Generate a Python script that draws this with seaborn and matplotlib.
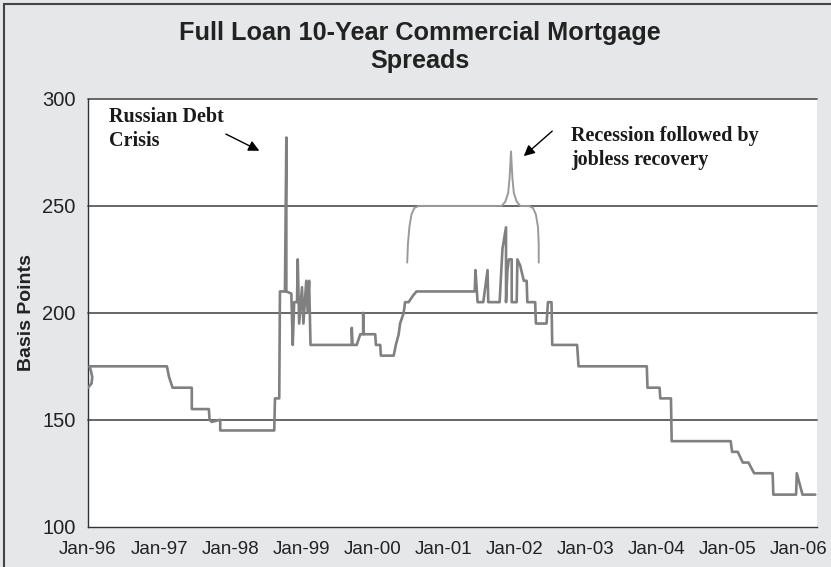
import matplotlib
matplotlib.use("Agg")
import matplotlib.pyplot as plt
import seaborn as sns
import pandas as pd
from matplotlib.patches import Rectangle

# spread series (decimal year, basis points)
years = [1996.00, 1996.05, 1996.06, 1996.04, 1996.02, 1997.11, 1997.14, 1997.19,
         1997.46, 1997.46, 1997.70, 1997.71, 1997.74, 1997.86, 1997.86, 1998.62,
         1998.63, 1998.69, 1998.70, 1998.77, 1998.79, 1998.79, 1998.86, 1998.88,
         1998.90, 1998.94, 1998.95, 1998.97, 1999.01, 1999.03, 1999.07, 1999.09,
         1999.11, 1999.13, 1999.66, 1999.71, 1999.71, 1999.72, 1999.78, 1999.83,
         1999.87, 1999.87, 1999.88, 2000.04, 2000.05, 2000.11, 2000.12, 2000.30,
         2000.33, 2000.37, 2000.39, 2000.44, 2000.46, 2000.51, 2000.57, 2000.62,
         2001.44, 2001.45, 2001.48, 2001.56, 2001.62, 2001.63, 2001.79, 2001.83,
         2001.88, 2001.88, 2001.90, 2001.92, 2001.96, 2001.96, 2002.03, 2002.04,
         2002.08, 2002.13, 2002.17, 2002.18, 2002.29, 2002.30, 2002.45, 2002.47,
         2002.52, 2002.53, 2002.88, 2002.90, 2003.86, 2003.87, 2004.04, 2004.05,
         2004.20, 2004.21, 2005.04, 2005.06, 2005.14, 2005.21, 2005.29, 2005.37,
         2005.63, 2005.64, 2005.96, 2005.97, 2006.05, 2006.23]
spreads = [165, 167, 170, 173, 175, 175, 170, 165,
           165, 155, 155, 150, 149, 150, 145, 145,
           160, 160, 210, 210, 282, 210, 209, 185,
           205, 205, 225, 195, 212, 195, 215, 200,
           215, 185, 185, 185, 193, 185, 185, 190,
           190, 200, 190, 190, 185, 185, 180, 180,
           185, 190, 195, 200, 205, 205, 208, 210,
           210, 220, 205, 205, 220, 205, 205, 230,
           240, 205, 220, 225, 225, 205, 205, 225,
           222, 215, 215, 205, 205, 195, 195, 205,
           205, 185, 185, 175, 175, 165, 165, 160,
           160, 140, 140, 135, 135, 130, 130, 125,
           125, 115, 115, 125, 115, 115]

# curly bracket over the 2001-02 recession
bracket_x = [2000.49, 2000.50, 2000.52, 2000.55, 2000.59, 2000.65, 2001.82,
             2001.87, 2001.91, 2001.93, 2001.95, 2001.97, 2001.99, 2002.03,
             2002.08, 2002.20, 2002.26, 2002.30, 2002.33, 2002.34, 2002.34]
bracket_y = [223.5, 232, 240, 246, 249, 250, 250,
             252, 256, 263, 275.5, 263, 256, 252,
             250, 250, 249, 246, 240, 232, 223.5]

tick_years = list(range(1996, 2007))
tick_labels = ["Jan-%02d" % (y % 100) for y in tick_years]
y_ticks = [100, 150, 200, 250, 300]

sns.set_style("white")
plt.rcParams["font.family"] = ["Liberation Sans", "DejaVu Sans"]

bg = "#e6e7e9"
fig = plt.figure(figsize=(8.31, 5.67), dpi=100, facecolor=bg)
ax = fig.add_axes([88 / 831, 1 - 526.7 / 567, 728.7 / 831, 427.7 / 567])
ax.set_facecolor("white")

df = pd.DataFrame({"year": years, "bps": spreads})
sns.lineplot(data=df, x="year", y="bps", sort=False, estimator=None,
             color="#808080", linewidth=1.9, ax=ax, zorder=3)
ax.plot(bracket_x, bracket_y, color="#9a9a9a", linewidth=1.4, zorder=3)

ax.set_xlim(1996.0, 2006.25)
ax.set_ylim(100, 300)
ax.set_xticks(tick_years)
ax.set_xticklabels(tick_labels)
ax.set_yticks(y_ticks)
ax.set_xlabel("")
ax.set_ylabel("")
for v in y_ticks[1:]:
    ax.axhline(v, color="#5a5a5a", linewidth=1.3, zorder=2, clip_on=False)

for s in ["top", "right"]:
    ax.spines[s].set_visible(False)
for s in ["left", "bottom"]:
    ax.spines[s].set_color("#333333")
    ax.spines[s].set_linewidth(1.0)
ax.tick_params(axis="both", direction="out", length=6, width=1,
               color="#333333", labelcolor="#222222")
ax.tick_params(axis="x", pad=4, labelsize=13.5)
ax.tick_params(axis="y", pad=3, labelsize=14.5)

fig.text(27 / 831, 1 - 313 / 567, "Basis Points", rotation=90, ha="center",
         va="center", fontsize=14, fontweight="bold", color="#222222")
fig.text(420 / 831, 1 - 21 / 567, "Full Loan 10-Year Commercial Mortgage\nSpreads",
         ha="center", va="top", fontsize=18.2, fontweight="bold",
         color="#222222", linespacing=1.19)

serif = ["Liberation Serif", "DejaVu Serif"]
ax.text(1996.29, 296.3, "Russian Debt\nCrisis", ha="left", va="top",
        fontsize=14.5, fontweight="bold", family=serif, color="#1a1a1a",
        linespacing=1.25)
ax.text(2002.80, 287.3, "Recession followed by\njobless recovery", ha="left",
        va="top", fontsize=14.5, fontweight="bold", family=serif,
        color="#1a1a1a", linespacing=1.25)
arrow = dict(arrowstyle="-|>", color="black", lw=1.0, mutation_scale=16,
             shrinkA=0, shrinkB=0)
ax.annotate("", xy=(1998.41, 275.8), xytext=(1997.94, 283.6), arrowprops=arrow)
ax.annotate("", xy=(2002.13, 273.3), xytext=(2002.53, 285.0), arrowprops=arrow)

# outer frame of the chart (cropped at right and bottom)
fig.patches.append(Rectangle((4 / 831, -0.1), 1.2, 1.1 - 4 / 567,
                             transform=fig.transFigure, fill=False,
                             edgecolor="#444444", linewidth=1.5))

fig.savefig("out.png", dpi=100, facecolor=bg)
